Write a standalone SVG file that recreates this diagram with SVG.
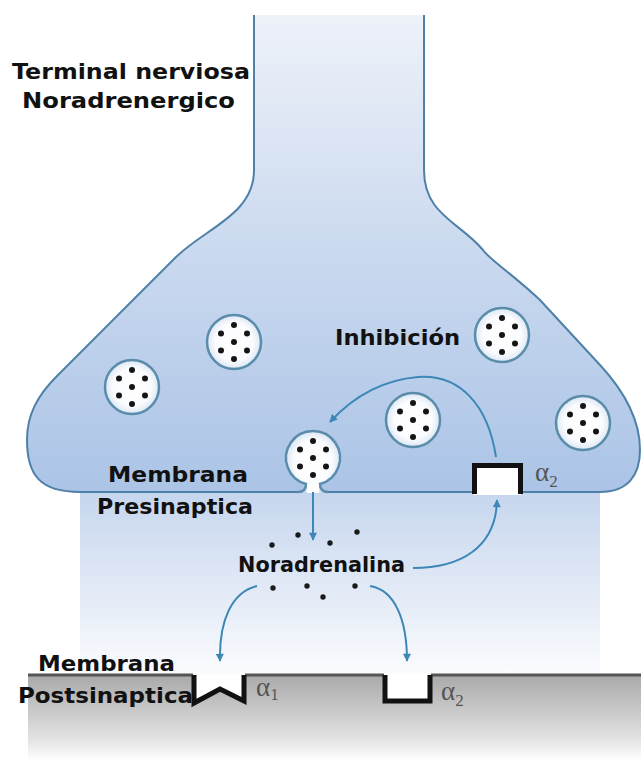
<svg xmlns="http://www.w3.org/2000/svg" xmlns:xlink="http://www.w3.org/1999/xlink" width="641" height="763" viewBox="0 0 641 763">
  <style>
    .lbl { font-family: "DejaVu Sans", "Liberation Sans", sans-serif; font-weight: bold; font-size: 22px; fill: #111; }
    .greek { font-family: "Liberation Serif", "DejaVu Serif", serif; font-size: 27px; fill: #555; }
    .sub { font-size: 17px; }
    .body { fill: url(#boutonFill); stroke: none; }
    .outline { fill: none; stroke: #4f80a8; stroke-width: 2; }
    .ves { fill: url(#vesFill); stroke: #5a8cab; stroke-width: 2.5; }
    .dot { fill: #151515; }
    .conn { fill: none; stroke: #3d87b6; stroke-width: 2; marker-end: url(#head); }
    .rec { fill: none; stroke: #111; stroke-width: 5; stroke-linejoin: miter; }
    .nt { fill: #1a1a1a; }
  </style>
  <defs>
    <linearGradient id="boutonFill" x1="0" y1="15" x2="0" y2="492" gradientUnits="userSpaceOnUse">
      <stop offset="0" stop-color="#eef2f9"/>
      <stop offset="0.5" stop-color="#cad9ef"/>
      <stop offset="1" stop-color="#abc4e6"/>
    </linearGradient>
    <linearGradient id="cleftFill" x1="0" y1="492" x2="0" y2="675" gradientUnits="userSpaceOnUse">
      <stop offset="0" stop-color="#c6d6ee"/>
      <stop offset="0.6" stop-color="#e5ecf7"/>
      <stop offset="1" stop-color="#fbfcfe"/>
    </linearGradient>
    <linearGradient id="postFill" x1="0" y1="675" x2="0" y2="760" gradientUnits="userSpaceOnUse">
      <stop offset="0" stop-color="#a9a9a9"/>
      <stop offset="0.75" stop-color="#e2e2e2"/>
      <stop offset="1" stop-color="#ffffff"/>
    </linearGradient>
    <radialGradient id="vesFill" cx="0.5" cy="0.5" r="0.5">
      <stop offset="0" stop-color="#ffffff"/>
      <stop offset="0.7" stop-color="#fbfcfe"/>
      <stop offset="1" stop-color="#dce7f4"/>
    </radialGradient>
    <g id="np">
      <circle class="dot" cx="0" cy="-17" r="3"/>
      <circle class="dot" cx="-13" cy="-8.5" r="3"/>
      <circle class="dot" cx="13" cy="-8.5" r="3"/>
      <circle class="dot" cx="0" cy="0" r="3"/>
      <circle class="dot" cx="-13" cy="8.5" r="3"/>
      <circle class="dot" cx="13" cy="8.5" r="3"/>
      <circle class="dot" cx="0" cy="17" r="3"/>
    </g>
    <g id="vesicle">
      <circle class="ves" cx="0" cy="0" r="27"/>
      <use xlink:href="#np"/>
    </g>
    <marker id="head" viewBox="0 0 10 10" refX="9" refY="5" markerWidth="5" markerHeight="4" orient="auto" markerUnits="strokeWidth">
      <path d="M0,0 L10,5 L0,10 Z" fill="#3d87b6"/>
    </marker>
  </defs>

  <!-- synaptic cleft -->
  <rect id="cleft" x="80" y="492" width="520" height="183" fill="url(#cleftFill)"/>

  <!-- postsynaptic cell -->
  <g id="postsynaptic">
    <rect x="28" y="675" width="613" height="85" fill="url(#postFill)"/>
    <path d="M28,675 H193 M245,675 H384 M431,675 H641" stroke="#555" stroke-width="3" fill="none"/>
  </g>

  <!-- presynaptic terminal: body fill, then membrane outline with openings -->
  <g id="terminal">
    <path class="body" d="M254,15 V170 C254,215 205,228 175,258 L57,376 C37,396 27,415 27,440 C27,475 40,492 80,492 H600 C628,492 640,475 640,450 C640,420 625,392 600,365 L540,300 C510,272 490,260 483,250 C460,222 424,215 424,170 V15 Z"/>
    <path class="outline" d="M254,15 V170 C254,215 205,228 175,258 L57,376 C37,396 27,415 27,440 C27,475 40,492 80,492 H298 M328,492 H600 C628,492 640,475 640,450 C640,420 625,392 600,365 L540,300 C510,272 490,260 483,250 C460,222 424,215 424,170 V15"/>
  </g>

  <!-- vesicles -->
  <g id="vesicle-1"><use xlink:href="#vesicle" x="132" y="387"/></g>
  <g id="vesicle-2"><use xlink:href="#vesicle" x="234" y="342"/></g>
  <g id="vesicle-3"><use xlink:href="#vesicle" x="502" y="335"/></g>
  <g id="vesicle-4"><use xlink:href="#vesicle" x="413" y="420"/></g>
  <g id="vesicle-5"><use xlink:href="#vesicle" x="583" y="423"/></g>
  <g id="vesicle-fusing">
    <path class="ves" d="M298,492 Q306,492 306,484 A27,27 0 1 1 320,484 Q320,492 328,492"/>
    <rect x="307" y="484" width="12" height="9" fill="#ffffff"/>
    <use xlink:href="#np" x="313" y="458"/>
  </g>

  <!-- presynaptic alpha-2 autoreceptor -->
  <g id="receptor-pre-a2">
    <rect x="474" y="465" width="47" height="30" fill="#ffffff"/>
    <path class="rec" d="M474.5,494 V465.5 H520.5 V494"/>
    <text class="greek" x="535" y="481">α<tspan class="sub" dy="6">2</tspan></text>
  </g>

  <!-- postsynaptic alpha-1 receptor -->
  <g id="receptor-post-a1">
    <path d="M193,675 V703 L220,689 L245,701 V675 Z" fill="#ffffff"/>
    <path class="rec" d="M194,675 V703 L220,689 L244,701 V675"/>
    <text class="greek" x="256" y="696">α<tspan class="sub" dy="4">1</tspan></text>
  </g>

  <!-- postsynaptic alpha-2 receptor -->
  <g id="receptor-post-a2">
    <rect x="384" y="674" width="47" height="28" fill="#ffffff"/>
    <path class="rec" d="M385,675 V701 H430 V675"/>
    <text class="greek" x="441" y="700">α<tspan class="sub" dy="6">2</tspan></text>
  </g>

  <!-- noradrenaline molecules released -->
  <g id="noradrenaline">
    <circle class="nt" cx="298" cy="535" r="2.7"/>
    <circle class="nt" cx="357" cy="532" r="2.7"/>
    <circle class="nt" cx="272" cy="545" r="2.7"/>
    <circle class="nt" cx="330" cy="543" r="2.7"/>
    <circle class="nt" cx="273" cy="588" r="2.7"/>
    <circle class="nt" cx="307" cy="586" r="2.7"/>
    <circle class="nt" cx="323" cy="597" r="2.7"/>
    <circle class="nt" cx="355" cy="586" r="2.7"/>
    <text class="lbl" x="238" y="572" textLength="167" lengthAdjust="spacingAndGlyphs">Noradrenalina</text>
  </g>

  <!-- connectors -->
  <g id="connectors">
    <path class="conn" d="M313,492 V540"/>
    <path class="conn" d="M413,568 C460,568 496,548 497,500"/>
    <path class="conn" d="M496,457 C488,405 460,374 418,377 C382,380 352,398 330,422"/>
    <path class="conn" d="M257,586 C232,592 219,620 220,661"/>
    <path class="conn" d="M370,586 C395,590 407,620 407,661"/>
  </g>

  <!-- labels -->
  <g id="labels">
    <text class="lbl" x="12" y="79" textLength="238" lengthAdjust="spacingAndGlyphs">Terminal nerviosa</text>
    <text class="lbl" x="22" y="108" textLength="213" lengthAdjust="spacingAndGlyphs">Noradrenergico</text>
    <text class="lbl" x="335" y="345" textLength="125" lengthAdjust="spacingAndGlyphs">Inhibición</text>
    <text class="lbl" x="108" y="482" textLength="140" lengthAdjust="spacingAndGlyphs">Membrana</text>
    <text class="lbl" x="97" y="514" textLength="156" lengthAdjust="spacingAndGlyphs">Presinaptica</text>
    <text class="lbl" x="38" y="671" textLength="137" lengthAdjust="spacingAndGlyphs">Membrana</text>
    <text class="lbl" x="18" y="703" textLength="175" lengthAdjust="spacingAndGlyphs">Postsinaptica</text>
  </g>
</svg>
